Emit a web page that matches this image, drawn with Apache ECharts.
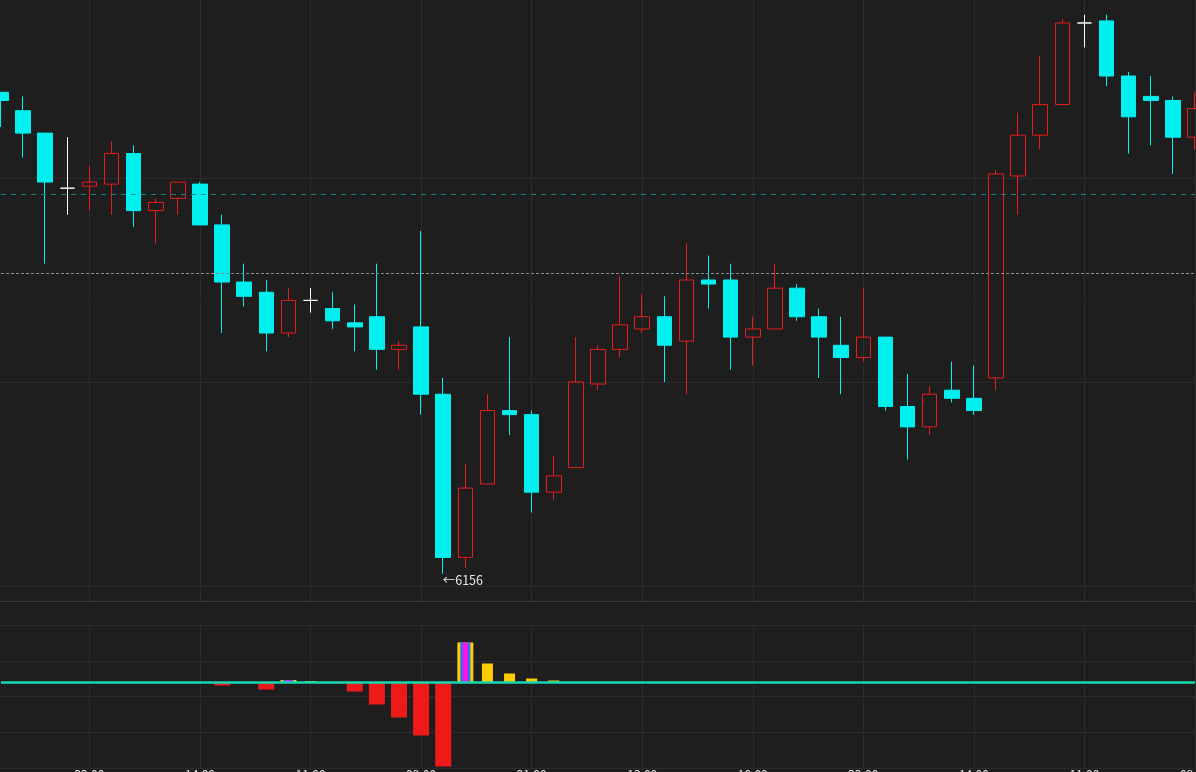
<!DOCTYPE html>
<html>
<head>
<meta charset="utf-8">
<script src="https://cdn.jsdelivr.net/npm/echarts@6/dist/echarts.min.js"></script>
<style>
html,body{margin:0;padding:0;background:#1e1e1e;overflow:hidden;}
#chart{width:1196px;height:772px;}
</style>
</head>
<body>
<div id="chart"></div>
<script>
// ---- data ----
const times = [
  '11:00','13:00','14:00','21:00','22:00','09:00','10:00','11:00','13:00','14:00',
  '21:00','22:00','09:00','10:00','11:00','13:00','14:00','21:00','22:00','09:00',
  '10:00','11:00','13:00','14:00','21:00','22:00','09:00','10:00','11:00','13:00',
  '14:00','21:00','22:00','09:00','10:00','11:00','13:00','14:00','21:00','22:00',
  '09:00','10:00','11:00','13:00','14:00','21:00','22:00','09:00','10:00','11:00',
  '13:00','14:00','21:00','22:00','09:00'
];
const opens = [
  6392,6383,6372,6345,6346,6347,6362,6334,6340,6347,
  6327,6299,6294,6274,6290,6286,6279,6282,6266,6277,
  6244,6164,6200,6236,6234,6196,6208,6249,6266,6276,
  6282,6270,6300,6300,6272,6276,6296,6282,6268,6262,
  6272,6238,6228,6246,6242,6252,6351,6371,6386,6426,
  6427,6400,6390,6388,6370
];
const closes = [
  6388,6372,6348,6345,6348,6362,6334,6338,6348,6327,
  6299,6292,6274,6290,6290,6280,6277,6266,6268,6244,
  6164,6198,6236,6234,6196,6204,6250,6266,6278,6282,
  6268,6300,6298,6272,6276,6296,6282,6272,6262,6272,
  6238,6228,6244,6242,6236,6352,6371,6386,6426,6426,
  6400,6380,6388,6370,6384
];
const highs = [
  6392,6390,6372,6370,6356,6368,6366,6340,6348,6348,
  6332,6308,6300,6296,6296,6294,6288,6308,6270,6324,
  6252,6210,6244,6272,6236,6214,6272,6268,6302,6293,
  6292,6318,6312,6308,6282,6308,6298,6286,6282,6296,
  6272,6254,6248,6260,6258,6354,6382,6410,6428,6430,
  6430,6402,6400,6390,6392
];
const lows = [
  6375,6360,6308,6332,6334,6332,6326,6318,6332,6327,
  6274,6287,6265,6272,6284,6276,6265,6256,6256,6234,
  6156,6159,6200,6224,6186,6192,6208,6246,6262,6274,
  6250,6244,6286,6256,6258,6276,6280,6252,6244,6260,
  6236,6212,6224,6240,6234,6246,6332,6364,6386,6414,
  6395,6362,6366,6352,6364
];
// price axis: visible window and grid levels
const priceMin = 6150 - 15 / 2.04;
const priceMax = 6150 + 586 / 2.04;
const priceGrid = [6150, 6350];   // lowest / highest horizontal grid level (step 100)
// reference price levels (dashed lines)
const refLevels = [6342, 6303.4];

// lower panel histogram
const _ = '-';
const histNeg = [
  _,_,_,_,_,_,_,_,_,_,
  -3,_,-7,_,_,_,-9,-22,-35,-53,
  -84,_,_,_,_,_,_,_,_,_,
  _,_,_,_,_,_,_,_,_,_,
  _,_,_,_,_,_,_,_,_,_,
  _,_,_,_,_
];
const histPos = [
  _,_,_,_,_,_,_,_,_,_,
  _,_,_,_,1.5,_,_,_,_,_,
  _,_,19,9,4,2,_,_,_,_,
  _,_,_,_,_,_,_,_,_,_,
  _,_,_,_,_,_,_,_,_,_,
  _,_,_,_,_
];
const sigOuter = [
  _,_,_,_,_,_,_,_,_,_,
  _,_,_,2.5,_,_,_,_,_,_,
  _,40,_,_,_,_,_,_,_,_,
  _,_,_,_,_,_,_,_,_,_,
  _,_,_,_,_,_,_,_,_,_,
  _,_,_,_,_
];
const sigMid = sigOuter.slice();
const sigInner = sigOuter.slice();
const histRange = [-85.5, 57.5];

// ---- build ----
const candleData = opens.map((o, i) => {
  const item = { value: [o, closes[i], lows[i], highs[i]] };
  if (o === closes[i]) item.itemStyle = { borderColor: '#ffffff', borderColor0: '#ffffff' };
  return item;
});

const labelEvery = (idx) => idx % 5 === 4;
const gridLine = '#2c2c2c';
const font = 'Noto Sans CJK SC';
const pxPerPoint = 2.04;

function hiddenX(gridIndex) {
  return {
    type: 'category', gridIndex, data: times, boundaryGap: false, show: false,
    axisLine: { onZero: false }
  };
}
const gridTopLevel = 586 - (priceGrid[1] - 6150) * pxPerPoint;

const option = {
  backgroundColor: '#1e1e1e',
  animation: false,
  grid: [
    { left: 1, right: 1, top: 0, height: 601, outerBoundsMode: 'none' },
    { left: 1, right: 1, top: 625, height: 143, outerBoundsMode: 'none' },
    { left: 1, right: 1, top: gridTopLevel, height: 586 - gridTopLevel, outerBoundsMode: 'none' }
  ],
  xAxis: [
    {
      type: 'category', gridIndex: 0, data: times, boundaryGap: false,
      axisLine: { show: true, onZero: false, lineStyle: { color: '#3a3a3a', width: 1 } },
      axisTick: { show: false }, axisLabel: { show: false },
      splitLine: { show: true, interval: labelEvery, lineStyle: { color: gridLine, width: 1 } }
    },
    {
      type: 'category', gridIndex: 1, data: times, boundaryGap: false,
      axisLine: { show: false, onZero: false }, axisTick: { show: false },
      axisLabel: {
        show: true, interval: labelEvery, color: '#e6e6e6', fontSize: 12,
        fontFamily: font, margin: 0, lineHeight: 12, verticalAlign: 'top'
      },
      splitLine: { show: true, interval: labelEvery, lineStyle: { color: gridLine, width: 1 } }
    },
    hiddenX(1), hiddenX(1), hiddenX(1), hiddenX(1),
    hiddenX(2)
  ],
  yAxis: [
    { type: 'value', gridIndex: 0, min: priceMin, max: priceMax, show: false, scale: true },
    {
      type: 'value', gridIndex: 1, min: 0, max: 4, interval: 1,
      axisLine: { show: false }, axisTick: { show: false }, axisLabel: { show: false },
      splitLine: { show: true, lineStyle: { color: gridLine, width: 1 } }
    },
    { type: 'value', gridIndex: 1, min: histRange[0], max: histRange[1], show: false },
    {
      type: 'value', gridIndex: 2, min: priceGrid[0], max: priceGrid[1], interval: 100,
      axisLine: { show: false }, axisTick: { show: false }, axisLabel: { show: false },
      splitLine: { show: true, lineStyle: { color: gridLine, width: 1 } }
    }
  ],
  series: [
    {
      type: 'candlestick', xAxisIndex: 0, yAxisIndex: 0, data: candleData,
      barWidth: 15, clip: false,
      itemStyle: {
        color: 'rgba(0,0,0,0)', color0: '#00f0f0',
        borderColor: '#e81c1c', borderColor0: '#00f0f0',
        borderColorDoji: '#ffffff', borderWidth: 1
      },
      markLine: {
        silent: true, symbol: ['none', 'none'], label: { show: false },
        data: [
          { yAxis: refLevels[0], lineStyle: { color: '#178585', width: 1, type: [5, 5] } },
          { yAxis: refLevels[1], lineStyle: { color: '#8a8a8a', width: 1, type: [3, 2] } }
        ]
      },
      markPoint: {
        silent: true, symbol: 'circle', symbolSize: 1,
        itemStyle: { color: 'rgba(0,0,0,0)' },
        label: {
          show: true, position: 'right', distance: 0, offset: [-1, 6],
          formatter: (p) => '\u2190' + Math.round(p.value),
          color: '#e8e8e8', fontSize: 12.5, fontFamily: font
        },
        data: [{ type: 'min', valueDim: 'lowest' }]
      }
    },
    {
      type: 'bar', xAxisIndex: 1, yAxisIndex: 2, data: histNeg, barWidth: 16,
      itemStyle: { color: '#ee1a1a' }
    },
    {
      type: 'bar', xAxisIndex: 2, yAxisIndex: 2, data: histPos, barWidth: 11,
      itemStyle: { color: '#ffcc00' }
    },
    {
      type: 'bar', xAxisIndex: 3, yAxisIndex: 2, data: sigOuter, barWidth: 16,
      itemStyle: { color: '#ffcc00' }
    },
    {
      type: 'bar', xAxisIndex: 4, yAxisIndex: 2, data: sigMid, barWidth: 10,
      itemStyle: { color: '#2a6dff' }
    },
    {
      type: 'bar', xAxisIndex: 5, yAxisIndex: 2, data: sigInner, barWidth: 5,
      itemStyle: { color: '#ff14e0' },
      markLine: {
        silent: true, symbol: ['none', 'none'], label: { show: false },
        data: [{ yAxis: 0 }],
        lineStyle: { color: '#16d8b2', width: 2.5, type: 'solid' }
      }
    },
    // empty series to bind the price-level grid
    { type: 'line', xAxisIndex: 6, yAxisIndex: 3, data: [], silent: true }
  ]
};

const chart = echarts.init(document.getElementById('chart'), null, { renderer: 'canvas' });
chart.setOption(option);
</script>
</body>
</html>
